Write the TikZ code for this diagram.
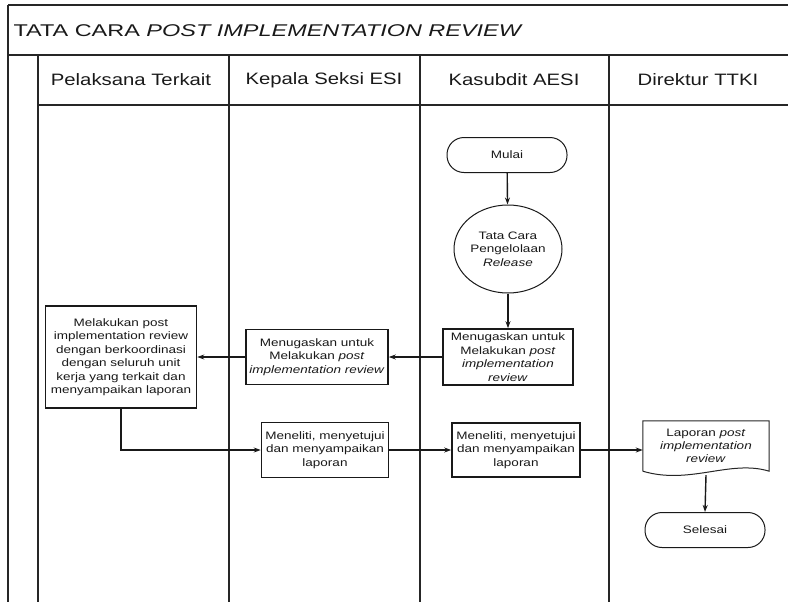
\documentclass[tikz,border=0pt]{standalone}
\usepackage{fontspec}
\setmainfont{Liberation Sans}[FakeStretch=1.25]
\newfontfamily\titlefont{Liberation Sans}[FakeStretch=1.38]
\newfontfamily\headfont{Liberation Sans}[FakeStretch=1.23]
\usetikzlibrary{arrows.meta,shapes.geometric}
\begin{document}
\begin{tikzpicture}[x=1pt,y=-1pt,
  lane/.style={draw=black!85,line width=1.8pt},
  head/.style={font=\headfont\fontsize{16.5}{19}\selectfont,text=black!90},
  box/.style={draw=black!90,line width=1.6pt,fill=white,align=center,inner sep=2pt,
    font=\fontsize{10.8}{13.5}\selectfont,text=black!90},
  term/.style={box,rounded corners=17pt,minimum width=120pt,minimum height=35pt,line width=1pt},
  arr/.style={draw=black!90,line width=1.4pt,-{Stealth[length=7pt,width=5pt]}},
]
\useasboundingbox (0,0) rectangle (788,606);
% frame and lanes
\draw[lane] (8,5) -- (788,5);
\draw[lane] (8,5) -- (8,602);
\draw[lane] (8,55) -- (788,55);
\draw[lane] (38,105) -- (788,105);
\foreach \x in {38,229,420,609} \draw[lane] (\x,55) -- (\x,602);
% title and headers
\node[anchor=west,font=\titlefont\fontsize{17}{20}\selectfont,text=black!90] (title) at (10,31) {TATA CARA \textit{POST IMPLEMENTATION REVIEW}};
\node[head] (h1) at (131,80) {Pelaksana Terkait};
\node[head] (h2) at (324,80) {Kepala Seksi ESI};
\node[head] (h3) at (514,80) {Kasubdit AESI};
\node[head] (h4) at (698,80) {Direktur TTKI};
% nodes
\node[term] (mulai) at (507,155) {Mulai};
\node[box,ellipse,minimum width=108pt,minimum height=88pt,line width=1pt,inner sep=0pt] (proc) at (508,249) {Tata Cara\\Pengelolaan\\\textit{Release}};
\node[box,minimum width=130pt,minimum height=56pt,inner sep=1pt] (kas1) at (508,357) {Menugaskan untuk\\Melakukan \textit{post}\\\textit{implementation}\\\textit{review}};
\node[box,minimum width=142pt,minimum height=55pt] (kep1) at (317,357) {Menugaskan untuk\\Melakukan \textit{post}\\\textit{implementation review}};
\node[box,minimum width=151pt,minimum height=102pt,inner sep=1pt] (pel) at (121,357) {Melakukan post\\implementation review\\dengan berkoordinasi\\dengan seluruh unit\\kerja yang terkait dan\\menyampaikan laporan};
\node[box,minimum width=127pt,minimum height=55pt] (kep2) at (325,450) {Meneliti, menyetujui\\dan menyampaikan\\laporan};
\node[box,minimum width=128pt,minimum height=54pt] (kas2) at (516,450) {Meneliti, menyetujui\\dan menyampaikan\\laporan};
\node[align=center,minimum width=126pt,minimum height=50pt,inner sep=0pt,
  font=\fontsize{10.8}{13}\selectfont,text=black!90] (doc) at (706,446) {Laporan \textit{post}\\\textit{implementation}\\\textit{review}};
\draw[draw=black!85,line width=1pt] (doc.south west) -- (doc.north west) -- (doc.north east) -- (doc.south east)
  .. controls +(-39,-12) and +(47,14) .. (doc.south west);
\node[term] (selesai) at (705,530) {Selesai};
% connectors
\draw[arr] (mulai) -- (proc);
\draw[arr] (proc) -- (kas1);
\draw[arr] (kas1) -- (kep1);
\draw[arr] (kep1) -- (pel);
\draw[arr] (pel.south) |- (kep2.west);
\draw[arr] (kep2) -- (kas2);
\draw[arr] (kas2.east) -- (kas2.east -| doc.west);
\draw[arr] ([yshift=-4pt]doc.south) -- (selesai.north);
\end{tikzpicture}
\end{document}
